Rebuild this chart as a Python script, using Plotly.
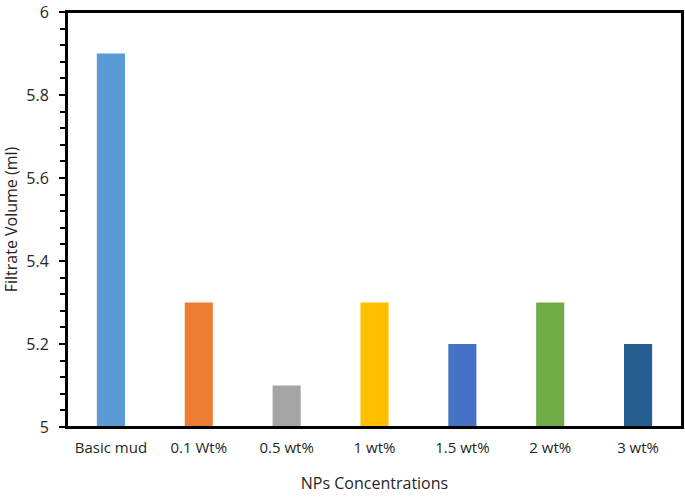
import plotly.graph_objects as go

categories = ["Basic mud", "0.1 Wt%", "0.5 wt%", "1 wt%", "1.5 wt%", "2 wt%", "3 wt%"]
values = [5.9, 5.3, 5.1, 5.3, 5.2, 5.3, 5.2]
colors = ["#5B9BD5", "#ED7D31", "#A5A5A5", "#FFC000", "#4472C4", "#70AD47", "#255E91"]

fig = go.Figure(go.Bar(x=categories, y=values, marker=dict(color=colors, line=dict(width=0))))
fig.update_layout(
    template="none",
    width=685, height=500,
    margin=dict(l=67, r=3, t=12, b=73),
    paper_bgcolor="white", plot_bgcolor="white",
    bargap=0.68,
    showlegend=False,
    font=dict(family="Open Sans, Liberation Sans, sans-serif", size=15, color="#262626"),
    shapes=[dict(type="rect", xref="paper", yref="paper", x0=0, x1=1, y0=0, y1=1,
                 line=dict(color="black", width=2), fillcolor="rgba(0,0,0,0)", layer="above")],
)
fig.update_xaxes(
    automargin=False,
    showline=True, linecolor="black", linewidth=2, mirror=True,
    ticks="", showgrid=False,
    tickfont=dict(size=15),
    ticklabelstandoff=6,
    title=dict(text="NPs Concentrations", font=dict(size=16), standoff=22),
)
fig.update_yaxes(
    automargin=False,
    range=[5, 6], tickmode="linear", tick0=5, dtick=0.2,
    ticklabeloverflow="allow",
    showline=True, linecolor="black", linewidth=2, mirror=True,
    ticks="outside", ticklen=6, tickwidth=2, tickcolor="black",
    minor=dict(tickmode="linear", dtick=0.04, tick0=5, ticks="outside", ticklen=5, tickwidth=2,
               tickcolor="black", showgrid=False),
    showgrid=False, zeroline=False,
    tickfont=dict(size=16),
    ticklabelstandoff=7,
    title=dict(text="Filtrate Volume (ml)", font=dict(size=16), standoff=14),
)
fig.write_html("out.html", post_script="document.body.style.margin='0px';",
               config={"displayModeBar": False})
